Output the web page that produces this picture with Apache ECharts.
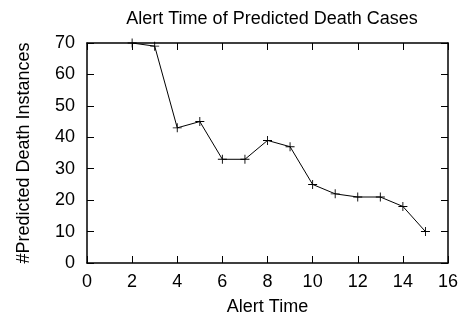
<!DOCTYPE html>
<html>
<head>
<meta charset="utf-8">
<script src="https://cdn.jsdelivr.net/npm/echarts@6/dist/echarts.min.js"></script>
<style>
  html, body { margin: 0; padding: 0; background: #fff; }
  #chart { width: 464px; height: 318px; }
</style>
</head>
<body>
<div id="chart"></div>
<script>
// alert time vs. number of predicted death instances
const alertTimes = [2, 3, 4, 5, 6, 7, 8, 9, 10, 11, 12, 13, 14, 15]
const deathCounts = [70, 69, 43, 45, 33, 33, 39, 37, 25, 22, 21, 21, 18, 10]

const font = 'Liberation Sans, Arial, sans-serif'
const plus = 'path://M0,4.5h10v1h-10z M4.5,0h1v10h-1z'

function tick() {
  return { show: true, inside: true, length: 7, lineStyle: { color: '#000', width: 1 } }
}
function line() {
  return { show: true, onZero: false, lineStyle: { color: '#000', width: 1.5 } }
}

const chart = echarts.init(document.getElementById('chart'))
chart.setOption({
  backgroundColor: '#fff',
  animation: false,
  title: {
    text: 'Alert Time of Predicted Death Cases',
    left: 267,
    textAlign: 'center',
    top: 5,
    textStyle: { fontFamily: font, fontSize: 18, fontWeight: 'normal', color: '#000' }
  },
  grid: { left: 87, right: 16, top: 43, bottom: 55, containLabel: false, outerBoundsMode: 'none' },
  xAxis: [
    {
      type: 'value', min: 0, max: 16, interval: 2, position: 'bottom',
      name: 'Alert Time', nameLocation: 'middle', nameGap: 35,
      nameTextStyle: { fontFamily: font, fontSize: 18, color: '#000' },
      axisLine: line(), axisTick: tick(),
      axisLabel: { fontFamily: font, fontSize: 18, color: '#000', margin: 10 },
      splitLine: { show: false }
    },
    {
      type: 'value', min: 0, max: 16, interval: 2, position: 'top',
      axisLine: line(), axisTick: tick(),
      axisLabel: { show: false }, splitLine: { show: false }
    }
  ],
  yAxis: [
    {
      type: 'value', min: 0, max: 70, interval: 10, position: 'left',
      name: '#Predicted Death Instances', nameLocation: 'middle', nameGap: 54,
      nameTextStyle: { fontFamily: font, fontSize: 18, color: '#000' },
      axisLine: line(), axisTick: tick(),
      axisLabel: { fontFamily: font, fontSize: 18, color: '#000', margin: 12 },
      splitLine: { show: false }
    },
    {
      type: 'value', min: 0, max: 70, interval: 10, position: 'right',
      axisLine: line(), axisTick: tick(),
      axisLabel: { show: false }, splitLine: { show: false }
    }
  ],
  series: [
    {
      type: 'line',
      data: alertTimes.map((t, i) => [t, deathCounts[i]]),
      symbol: plus,
      symbolSize: 9,
      showAllSymbol: true,
      itemStyle: { color: '#000' },
      lineStyle: { color: '#000', width: 1 }
    },
    // empty series so the top/right mirror axes get drawn
    { type: 'line', xAxisIndex: 1, yAxisIndex: 1, data: [] }
  ]
})
</script>
</body>
</html>
